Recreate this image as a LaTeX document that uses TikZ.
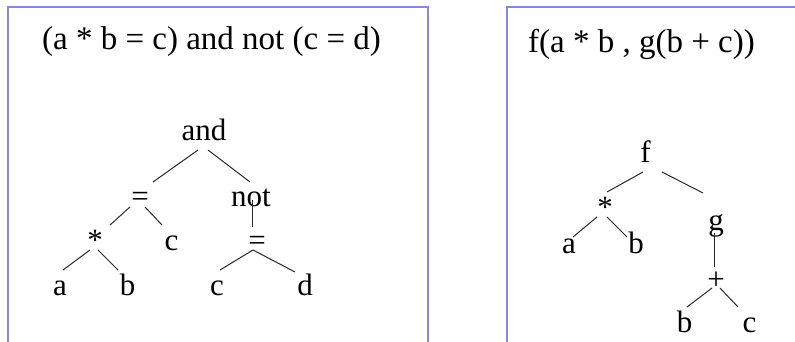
\documentclass[tikz,border=0pt]{standalone}
\usepackage{fontspec}
\setmainfont{Liberation Serif}
\definecolor{frame}{RGB}{135,135,228}
\definecolor{edge}{RGB}{40,40,40}
\begin{document}
\begin{tikzpicture}[x=1pt,y=-1pt,
  lbl/.style={anchor=base,inner sep=0pt,font=\fontsize{31}{36}\selectfont},
  ttl/.style={anchor=base west,inner sep=0pt,font=\fontsize{33}{39}\selectfont},
  br/.style={draw=edge,line width=1pt},
  frm/.style={draw=frame,line width=2.2pt}]
\useasboundingbox[fill=white] (0,0) rectangle (795,342);
% frames
\draw[frm] (8,345) -- (8,7) -- (428,7) -- (428,345);
\draw[frm] (507,345) -- (507,7) -- (798,7);
% titles
\node[ttl] (t1) at (42,50) {(a * b = c) and not (c = d)};
\node[ttl] (t2) at (528,53) {f(a * b , g(b + c))};
% left tree
\node[lbl] (and) at (204,140) {and};
\node[lbl] (eqL) at (140,206) {=};
\node[lbl] (not) at (251,206) {not};
\node[lbl] (star) at (95,250) {*};
\node[lbl] (cL) at (171.5,250) {c};
\node[lbl] (eqR) at (257,250) {=};
\node[lbl] (a) at (60,295) {a};
\node[lbl] (b) at (127.5,295) {b};
\node[lbl] (c2) at (217,295) {c};
\node[lbl] (d) at (305,295) {d};
\draw[br] ([shift={(-6,10)}]and.base) -- ([shift={(13,-24)}]eqL.base);
\draw[br] ([shift={(4,10)}]and.base) -- ([shift={(-1,-24)}]not.base);
\draw[br] ([shift={(-10,1)}]eqL.base) -- ([shift={(15,-25)}]star.base);
\draw[br] ([shift={(5,1)}]eqL.base) -- ([shift={(-9.5,-25)}]cL.base);
\draw[br] ([shift={(1,-6)}]not.base) -- ([shift={(-5,-23)}]eqR.base);
\draw[br] ([shift={(-5,0)}]star.base) -- ([shift={(3,-25)}]a.base);
\draw[br] ([shift={(3,0)}]star.base) -- ([shift={(-9.5,-25)}]b.base);
\draw[br] ([shift={(-4,0)}]eqR.base) -- ([shift={(3,-25)}]c2.base);
\draw[br] ([shift={(-4,0)}]eqR.base) -- ([shift={(-10,-23)}]d.base);
% right tree
\node[lbl] (f) at (645.5,163) {f};
\node[lbl] (star2) at (605,217) {*};
\node[lbl] (g) at (716,230) {g};
\node[lbl] (a2) at (569,253) {a};
\node[lbl] (b2) at (636,253) {b};
\node[lbl] (plus) at (716,289) {+};
\node[lbl] (b3) at (684.5,332) {b};
\node[lbl] (c3) at (749.5,332) {c};
\draw[br] ([shift={(-2.5,9)}]f.base) -- ([shift={(2,-25)}]star2.base);
\draw[br] ([shift={(16.5,9)}]f.base) -- ([shift={(-13,-37)}]g.base);
\draw[br] ([shift={(-8,0)}]star2.base) -- ([shift={(4,-16)}]a2.base);
\draw[br] ([shift={(2,0)}]star2.base) -- ([shift={(-9,-16)}]b2.base);
\draw[br] ([shift={(-2,3)}]g.base) -- ([shift={(-2,-22)}]plus.base);
\draw[br] ([shift={(-4,-1)}]plus.base) -- ([shift={(2.5,-25)}]b3.base);
\draw[br] ([shift={(4,-1)}]plus.base) -- ([shift={(-11.5,-25)}]c3.base);
\end{tikzpicture}
\end{document}
